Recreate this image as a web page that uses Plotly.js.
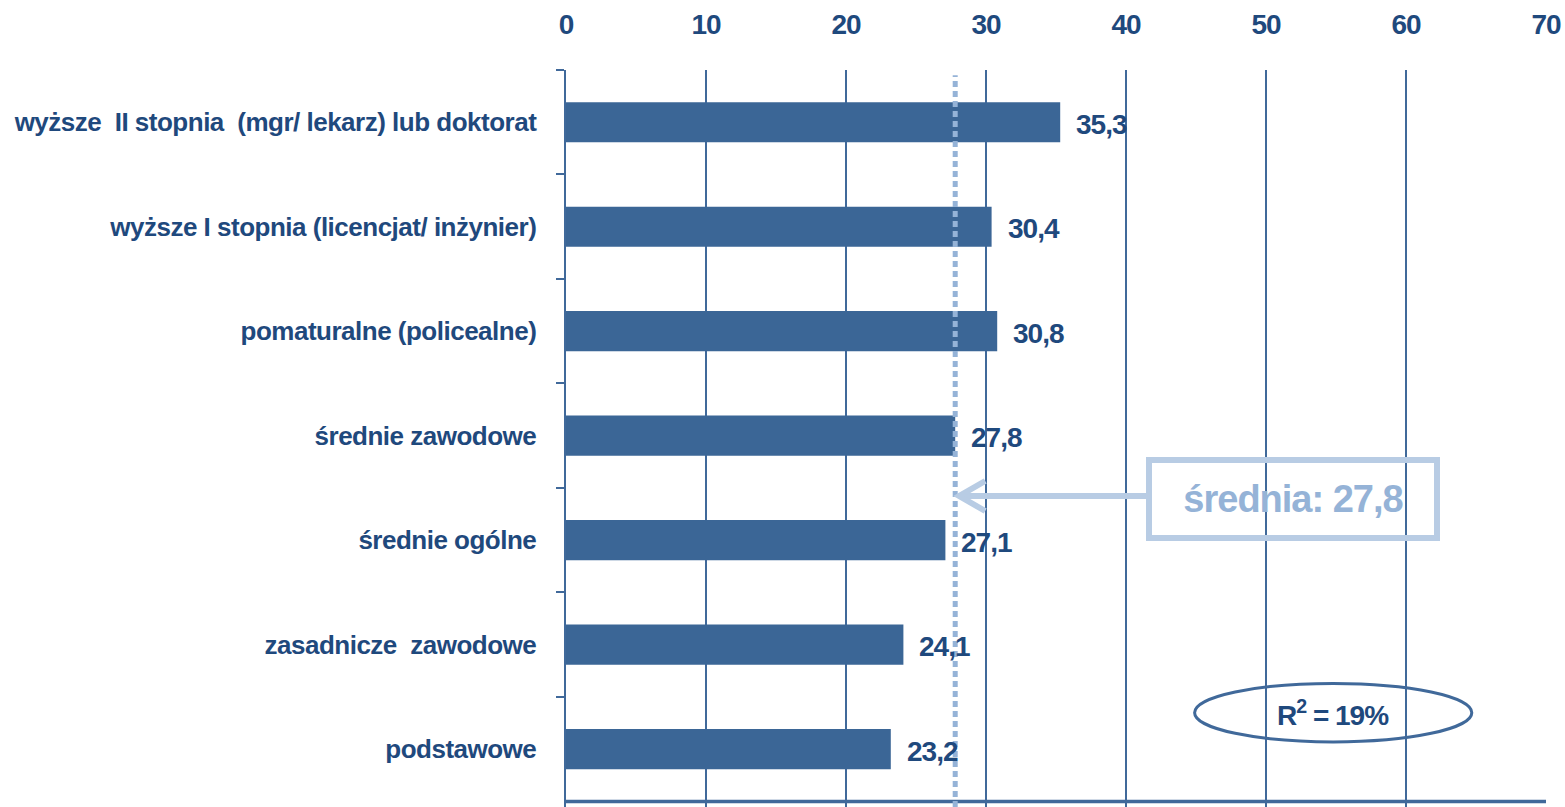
<!DOCTYPE html>
<html>
<head>
<meta charset="utf-8">
<script src="https://cdn.plot.ly/plotly-3.0.1.min.js"></script>
<style>
html,body{margin:0;padding:0;background:#fff;}
#chart{width:1565px;height:807px;}
.ytick text{letter-spacing:-0.5px;}
.xtick text{letter-spacing:-1px;}
.annotation-text{letter-spacing:-1px;}
</style>
</head>
<body>
<div id="chart"></div>
<script>
const categories = [
  "wyższe  II stopnia  (mgr/ lekarz) lub doktorat",
  "wyższe I stopnia (licencjat/ inżynier)",
  "pomaturalne (policealne)",
  "średnie zawodowe",
  "średnie ogólne",
  "zasadnicze  zawodowe",
  "podstawowe"
];
const values = [35.3, 30.4, 30.8, 27.8, 27.1, 24.1, 23.2];
const meanValue = 27.8;
const meanLabel = "średnia: 27,8";
const r2Label = "R<sup>2</sup> = 19%";
const xTicks = [0, 10, 20, 30, 40, 50, 60, 70];

const navy = "#1f497d";
const barColor = "#3b6696";
const gridColor = "#40699a";
const lightBlue = "#b8cce4";
const dotBlue = "#95b3d7";
const FONT = "Liberation Sans, Arial, sans-serif";

const fmt = v => v.toFixed(1).replace(".", ",");

const trace = {
  type: "bar",
  orientation: "h",
  x: values,
  y: categories,
  marker: {color: barColor, line: {width: 0}},
  width: 0.385,
  hoverinfo: "skip"
};

const valueAnnotations = values.map((v, i) => ({
  x: v, y: categories[i], xref: "x", yref: "y",
  text: fmt(v), showarrow: false, xanchor: "left", yanchor: "middle",
  xshift: 14, yshift: -2,
  font: {family: FONT, size: 28, color: navy, weight: 700}
}));

const layout = {
  width: 1565, height: 807,
  margin: {l: 566, r: 19, t: 70, b: 0},
  paper_bgcolor: "#fff", plot_bgcolor: "#fff",
  showlegend: false,
  separators: ", ",
  xaxis: {
    side: "top",
    range: [0, 70],
    tickvals: xTicks,
    ticktext: xTicks.map(String),
    showgrid: true, gridcolor: gridColor, gridwidth: 2.5,
    zeroline: false, showline: false, ticks: "",
    ticklabelstandoff: 29,
    tickfont: {family: FONT, size: 28, color: navy, weight: 700},
    fixedrange: true
  },
  yaxis: {
    type: "category",
    categoryorder: "array", categoryarray: categories,
    range: [6.553, -0.5],
    showgrid: false, zeroline: false,
    showline: true, linecolor: gridColor, linewidth: 2.5,
    ticks: "outside", tickson: "boundaries", ticklen: 8, tickwidth: 2, tickcolor: gridColor,
    ticklabelstandoff: 22,
    tickfont: {family: FONT, size: 26, color: navy, weight: 700},
    fixedrange: true
  },
  shapes: [
    {type: "line", xref: "x", yref: "y", x0: 0, x1: 70, y0: 6.5, y1: 6.5,
     line: {color: gridColor, width: 3.5}},
    {type: "line", xref: "x", yref: "paper", x0: meanValue, x1: meanValue, y0: 0, y1: 0.993,
     line: {color: dotBlue, width: 5, dash: "6px,4px"}},
    {type: "path", xref: "x", yref: "paper", xsizemode: "pixel", ysizemode: "pixel",
     xanchor: meanValue, yanchor: 0.422,
     path: "M 4 0 L 194 0", line: {color: lightBlue, width: 6}},
    {type: "path", xref: "x", yref: "paper", xsizemode: "pixel", ysizemode: "pixel",
     xanchor: meanValue, yanchor: 0.422,
     path: "M 30 15 L 4 0 L 30 -15", line: {color: lightBlue, width: 6}},
    {type: "circle", xref: "x", yref: "y", x0: 44.9, x1: 64.7, y0: 5.37, y1: 5.93,
     line: {color: gridColor, width: 3}, fillcolor: "rgba(0,0,0,0)"}
  ],
  annotations: valueAnnotations.concat([
    {x: 51.9, y: 0.418, xref: "x", yref: "paper", text: meanLabel, showarrow: false,
     xanchor: "center", yanchor: "middle",
     font: {family: FONT, size: 38, color: dotBlue, weight: 700},
     bordercolor: lightBlue, borderwidth: 6, borderpad: 10, width: 262, height: 52},
    {x: 54.8, y: 5.65, xref: "x", yref: "y", text: r2Label, showarrow: false,
     xanchor: "center", yanchor: "middle",
     font: {family: FONT, size: 28, color: navy, weight: 700}}
  ])
};

Plotly.newPlot("chart", [trace], layout, {staticPlot: true, displayModeBar: false});
</script>
</body>
</html>
